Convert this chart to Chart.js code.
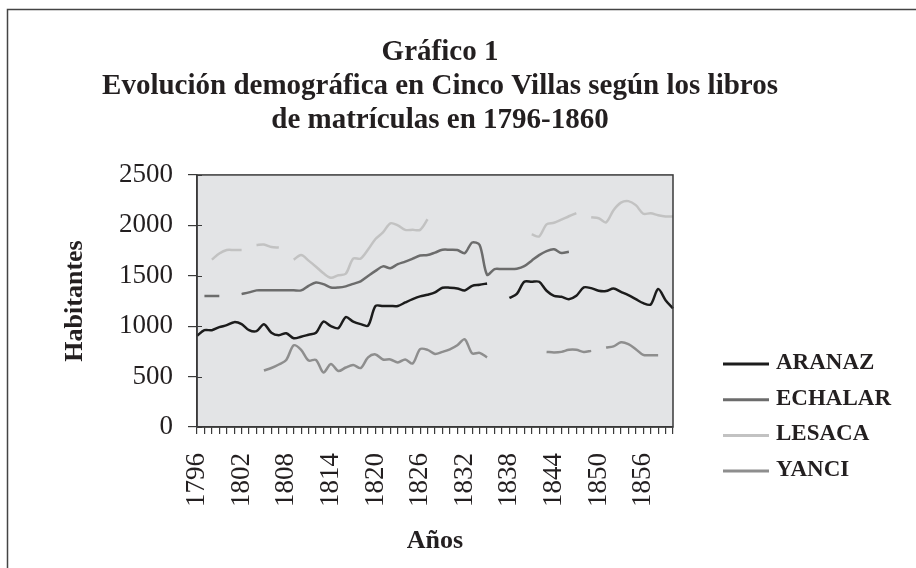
<!DOCTYPE html>
<html>
<head>
<meta charset="utf-8">
<script src="https://cdn.jsdelivr.net/npm/chart.js@4.4.1/dist/chart.umd.min.js"></script>
<style>
  html, body { margin: 0; padding: 0; background: #fff; }
  #wrap { width: 916px; height: 568px; }
</style>
</head>
<body>
<div id="wrap"><canvas id="grafico" width="916" height="568"></canvas></div>
<script>
// Años 1796-1860 (una categoría por año)
const years = [
  '1796','1797','1798','1799','1800','1801','1802','1803','1804','1805',
  '1806','1807','1808','1809','1810','1811','1812','1813','1814','1815',
  '1816','1817','1818','1819','1820','1821','1822','1823','1824','1825',
  '1826','1827','1828','1829','1830','1831','1832','1833','1834','1835',
  '1836','1837','1838','1839','1840','1841','1842','1843','1844','1845',
  '1846','1847','1848','1849','1850','1851','1852','1853','1854','1855',
  '1856','1857','1858','1859','1860'
];

// Habitantes por villa (null = año sin dato)
const aranaz = [
  905, 960, 960, 990, 1010, 1040, 1020, 960, 950, 1020,
  935, 910, 930, 880, 895, 915, 935, 1045, 1000, 980,
  1090, 1045, 1020, 1005, 1200, 1200, 1200, 1200, 1235, 1268,
  1295, 1311, 1334, 1381, 1381, 1374, 1354, 1400, 1410, 1424,
  null, null, 1280, 1320, 1440, 1440, 1440, 1351, 1301, 1291,
  1268, 1301, 1384, 1377, 1351, 1348, 1374, 1341, 1308, 1268,
  1228, 1215, 1368, 1258, 1175
];
const echalar = [
  null, 1300, 1300, 1300, null, null, 1318, 1335, 1355, 1355,
  1355, 1355, 1355, 1355, 1355, 1400, 1434, 1417, 1384, 1384,
  1395, 1420, 1445, 1497, 1548, 1593, 1575, 1615, 1640, 1670,
  1700, 1705, 1730, 1758, 1758, 1755, 1725, 1830, 1805, 1510,
  1566, 1566, 1566, 1570, 1595, 1650, 1705, 1745, 1762, 1725,
  1738, null, null, null, null, null, null, null, null, null,
  null, null, null, null, null
];
const lesaca = [
  null, null, 1660, 1720, 1755, 1755, 1755, null, 1805, 1810,
  1785, 1780, null, 1660, 1705, 1650, 1590, 1525, 1480, 1505,
  1520, 1670, 1670, 1760, 1865, 1930, 2020, 2000, 1955, 1955,
  1955, 2060, null, null, null, null, null, null, null, null,
  null, null, null, null, null, 1910, 1890, 2010, 2025, 2056,
  2090, 2122, null, 2080, 2070, 2030, 2150, 2225, 2240, 2200,
  2115, 2120, 2100, 2088, 2088
];
const yanci = [
  null, null, null, null, null, null, null, null, null, 560,
  585, 620, 665, 810, 765, 660, 665, 540, 625, 555,
  590, 615, 585, 690, 720, 670, 670, 640, 670, 630,
  772, 765, 725, 745, 770, 810, 870, 730, 735, 690,
  null, null, null, null, null, null, null, 745, 740, 745,
  765, 765, 745, 755, null, 788, 800, 840, 822, 772,
  715, 712, 712, null, null
];

const yTicks = [0, 500, 1000, 1500, 2000, 2500];

const TEXT = '#231f20';
const FRAME = '#3a3a3a';

Chart.defaults.font.family = '"Liberation Serif", "DejaVu Serif", serif';
Chart.defaults.color = TEXT;

// fondo gris del área de trazado y marco
const plotFrame = {
  id: 'plotFrame',
  beforeDraw(chart) {
    const { ctx, chartArea: a } = chart;
    ctx.save();
    ctx.fillStyle = '#e3e4e6';
    ctx.fillRect(a.left, a.top, a.right - a.left, a.bottom - a.top);
    ctx.restore();
  },
  afterDatasetsDraw(chart) {
    const { ctx, chartArea: a } = chart;
    ctx.save();
    ctx.strokeStyle = FRAME;
    ctx.lineWidth = 1.5;
    ctx.strokeRect(a.left, a.top, a.right - a.left, a.bottom - a.top);
    // las marcas del eje Y cruzan el eje, también hacia dentro
    const y = chart.scales.y;
    ctx.lineWidth = 1.2;
    ctx.beginPath();
    y.ticks.forEach(t => {
      const py = Math.round(y.getPixelForValue(t.value)) + 0.5;
      ctx.moveTo(a.left, py);
      ctx.lineTo(a.left + 5, py);
    });
    ctx.stroke();
    ctx.restore();
  },
  afterDraw(chart) {
    // borde exterior del gráfico
    const ctx = chart.ctx;
    ctx.save();
    ctx.strokeStyle = '#444';
    ctx.lineWidth = 1.5;
    ctx.strokeRect(7.5, 9.5, 1000, 1000);
    ctx.restore();
  }
};

// leyenda a la derecha, como en el original
const sideLegend = {
  id: 'sideLegend',
  afterDraw(chart) {
    const ctx = chart.ctx;
    const x0 = chart.chartArea.right + 50;
    ctx.save();
    ctx.font = 'bold 23px "Liberation Serif"';
    ctx.textBaseline = 'middle';
    ctx.textAlign = 'left';
    chart.data.datasets.forEach((ds, i) => {
      const y = 363 + i * 35.7;
      ctx.strokeStyle = ds.borderColor;
      ctx.lineWidth = 3;
      ctx.beginPath();
      ctx.moveTo(x0, y + 1);
      ctx.lineTo(x0 + 46, y + 1);
      ctx.stroke();
      ctx.fillStyle = TEXT;
      ctx.fillText(ds.label, x0 + 53, y);
    });
    ctx.restore();
  }
};

const serie = (label, data, color) => ({
  label,
  data,
  borderColor: color,
  backgroundColor: color,
  borderWidth: 2.5,
  pointRadius: 0,
  tension: 0.3,
  spanGaps: false,
  fill: false
});

new Chart(document.getElementById('grafico'), {
  type: 'line',
  data: {
    labels: years,
    datasets: [
      serie('ARANAZ', aranaz, '#1c1c1c'),
      serie('ECHALAR', echalar, '#6c6c6c'),
      serie('LESACA', lesaca, '#c2c2c2'),
      serie('YANCI', yanci, '#8e8e8e')
    ]
  },
  options: {
    responsive: false,
    animation: false,
    events: [],
    devicePixelRatio: 1,
    layout: { padding: { left: 0, right: 36, top: 0, bottom: 0 } },
    plugins: {
      legend: { display: false },
      tooltip: { enabled: false },
      title: {
        display: true,
        text: [
          'Gráfico 1',
          'Evolución demográfica en Cinco Villas según los libros',
          'de matrículas en 1796-1860'
        ],
        color: TEXT,
        font: { size: 29, weight: 'bold', lineHeight: 1.16 },
        padding: { top: 36, bottom: 38 }
      }
    },
    scales: {
      x: {
        offset: false,
        grid: { drawOnChartArea: false, tickLength: 7, color: FRAME, lineWidth: 1.2 },
        border: { display: true, color: FRAME, width: 1.5 },
        ticks: {
          autoSkip: false,
          maxRotation: 90,
          minRotation: 90,
          padding: 19,
          font: { size: 27 },
          color: TEXT,
          callback: (v, i) => (i % 6 === 0 ? years[i] : '')
        },
        title: {
          display: true,
          text: 'Años',
          color: TEXT,
          font: { size: 26, weight: 'bold', lineHeight: 1.2 },
          padding: { top: 0, bottom: 11 }
        },
        afterFit(s) { s.height = 141; }
      },
      y: {
        min: 0,
        max: 2500,
        afterBuildTicks(s) { s.ticks = yTicks.map(v => ({ value: v })); },
        grid: { drawOnChartArea: false, tickLength: 9, color: FRAME, lineWidth: 1.2 },
        border: { display: true, color: FRAME, width: 1.5 },
        ticks: {
          padding: 15,
          font: { size: 27 },
          color: TEXT,
          callback: v => String(v)
        },
        title: {
          display: true,
          text: 'Habitantes',
          color: TEXT,
          font: { size: 26, weight: 'bold', lineHeight: 1.2 },
          padding: { top: 60, bottom: 0 }
        },
        afterFit(s) { s.width = 197; }
      },
      // eje vacío que reserva el hueco de la leyenda
      yR: {
        type: 'linear',
        position: 'right',
        display: true,
        grid: { display: false },
        border: { display: false },
        ticks: { display: false },
        afterFit(s) { s.width = 207; }
      }
    }
  },
  plugins: [plotFrame, sideLegend]
});
</script>
</body>
</html>
